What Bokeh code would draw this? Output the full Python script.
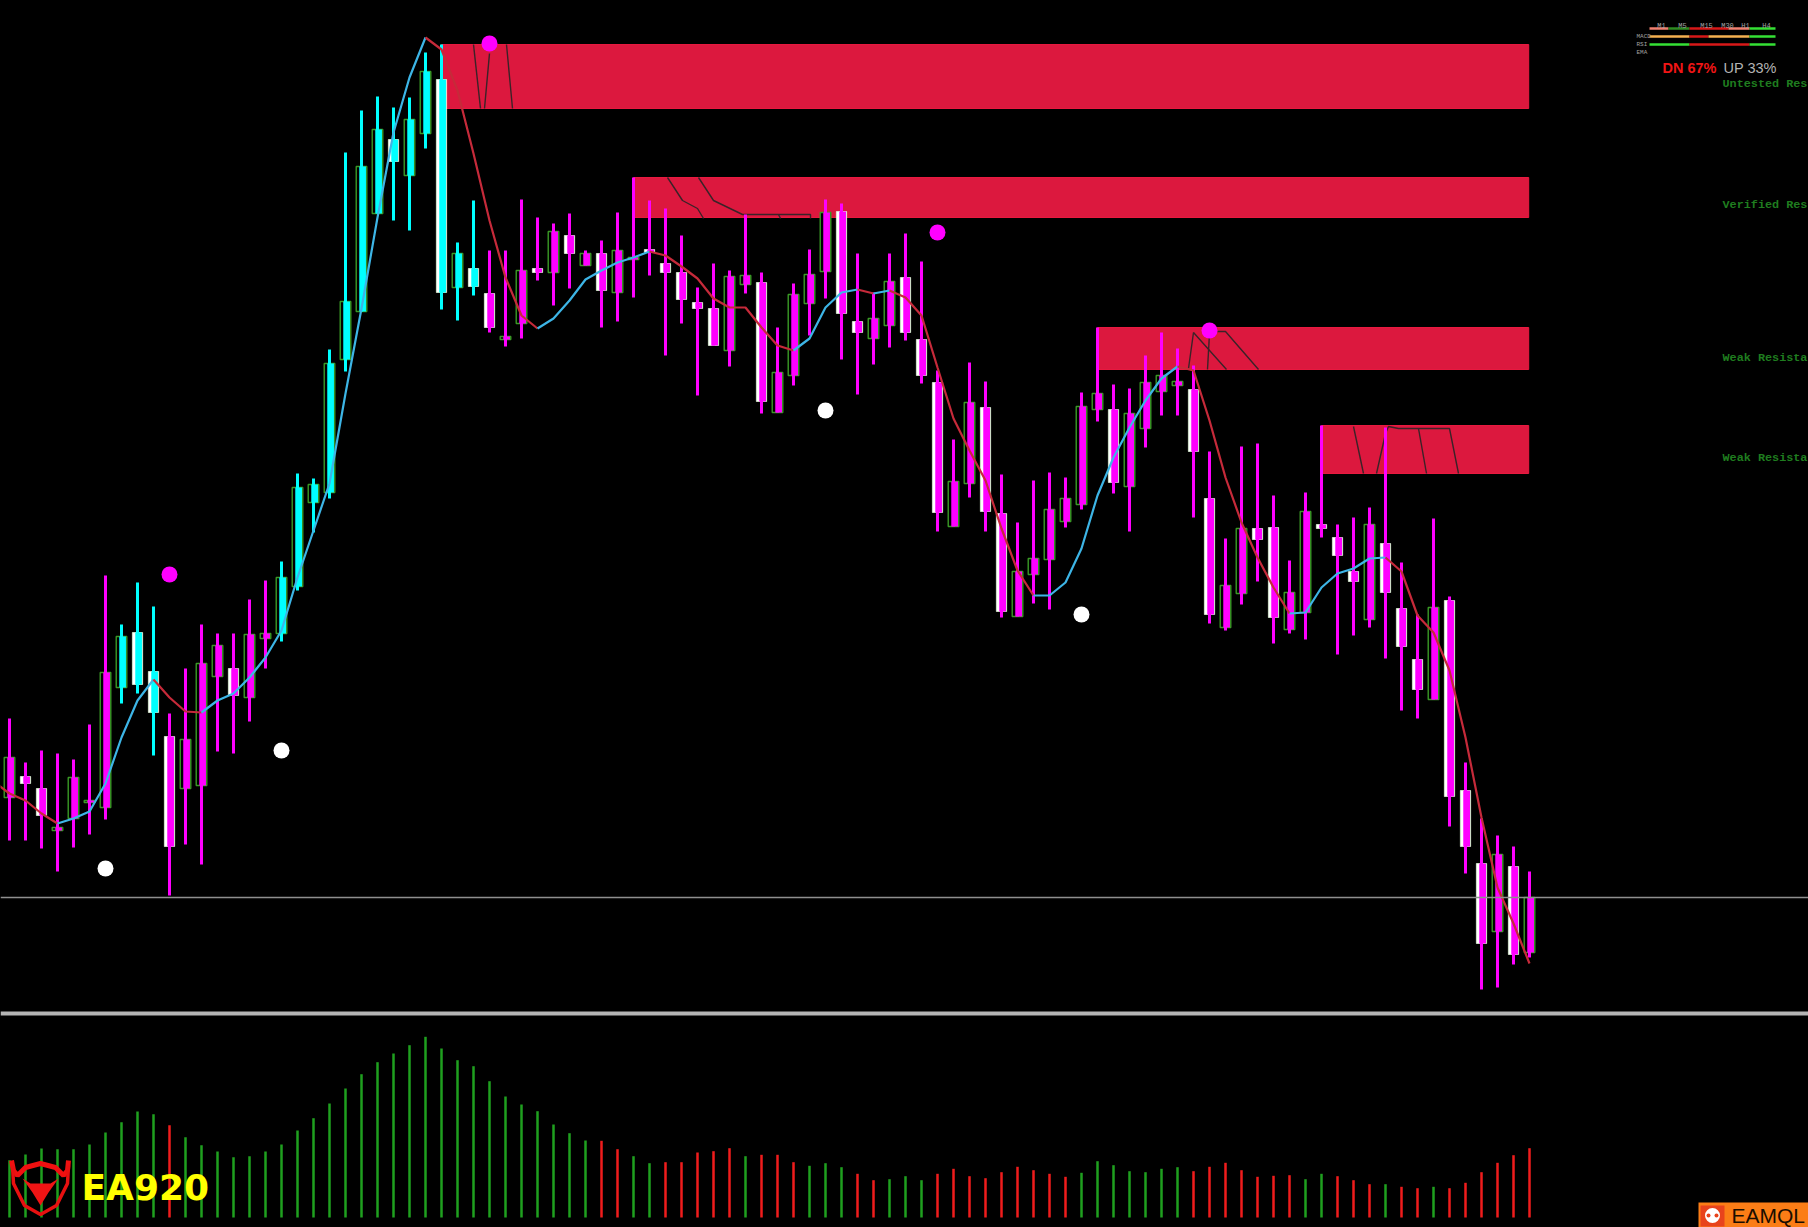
from bokeh.embed import file_html
from bokeh.resources import INLINE
from bokeh.plotting import figure
from bokeh.models import Range1d, Span
from bokeh.core.properties import value

# ---- candles (price axis = picture rows, bar index = 0..95) ----
high = [718,762,750,753,759,724,575,624,582,606,713,668,624,633,633,599,580,561,473,478,
        349,152,110,96,107,97,52,44,242,200,250,250,199,217,223,213,250,240,212,177,
        200,208,235,287,263,270,214,272,327,283,249,199,203,253,292,253,233,261,370,439,
        362,381,474,522,480,472,477,392,327,384,388,355,332,348,365,451,538,446,443,495,
        560,492,425,524,517,507,427,562,614,518,596,762,818,835,846,871]
low = [840,840,848,871,847,834,819,703,693,755,895,844,864,751,753,721,668,641,590,532,
       498,371,311,213,220,230,148,309,320,295,332,346,338,280,305,288,265,327,321,297,
       275,355,323,395,345,366,293,413,412,385,335,298,359,394,364,347,340,383,531,526,
       497,531,617,616,603,609,527,509,421,493,531,447,415,415,517,623,630,604,581,643,
       633,639,537,654,635,627,658,710,718,699,826,873,989,987,964,957]
body_top = [757,776,788,827,777,800,672,636,632,671,736,739,663,645,668,634,633,577,487,484,
            363,301,166,129,139,119,71,79,253,268,293,336,270,268,231,235,253,253,250,257,
            249,263,272,302,308,276,275,282,372,294,274,212,211,321,318,281,277,339,382,481,
            402,407,513,571,558,509,498,406,393,409,413,382,375,381,389,498,585,528,528,527,
            592,511,524,537,571,524,543,608,659,607,600,790,863,854,866,897]
body_bot = [797,783,815,830,818,802,807,687,684,712,846,788,785,676,695,697,638,633,586,502,
            492,359,311,213,161,175,133,292,287,286,327,339,323,272,272,253,265,290,292,259,
            252,272,299,308,345,350,284,401,412,375,303,271,313,332,338,325,332,375,512,526,
            483,511,611,616,574,559,521,504,409,482,486,428,391,385,451,614,627,593,539,617,
            629,612,528,555,581,619,592,646,689,699,796,846,943,931,954,952]
# bars with a white body; the others are hollow green boxes
white_bars = [1,2,8,9,10,14,24,27,29,30,33,35,37,40,41,42,43,44,47,52,53,56,57,58,61,62,69,74,75,
              78,79,82,83,84,86,87,88,90,91,92,94]
cyan_bars = [7, 8, 9] + list(range(17, 30))

# ---- fast line ----
signal = [793,800,813,823,818,811,783,737,700,679,697,711,712,700,693,677,657,630,577,530,
          483,393,308,217,132,77,37,49,90,153,220,277,315,328,318,300,279,270,262,257,
          251,255,266,278,298,307,307,327,345,350,338,307,292,289,293,290,297,315,367,418,
          450,480,528,570,595,595,582,548,495,457,427,400,378,366,370,420,477,522,557,587,
          613,612,587,573,568,558,557,571,615,632,670,737,817,887,923,963]
signal_runs = [(0,3,"r"),(3,9,"c"),(9,12,"r"),(12,26,"c"),(26,33,"r"),(33,40,"c"),(40,49,"r"),
               (49,53,"c"),(53,54,"r"),(54,55,"c"),(55,64,"r"),(64,73,"c"),(73,80,"r"),(80,86,"c"),(86,95,"r")]

# ---- lower histogram ----
hist = [57.3,63,69,68.3,68.3,73,85,95.3,106,103.3,92.3,80.3,72.3,66,60.3,61.3,66,73,87,99.3,
        114,129,143.3,155.3,164,172.3,180.7,169,157.3,151.3,136.3,121,113,106.3,93,84.3,77,76.7,68.3,61.3,
        54.3,55.3,55.3,65,66.3,69.3,61.3,62.7,62.7,55.3,51.7,54.3,50.3,43.7,37.3,38.3,41.3,37.3,43.7,48.7,
        41.3,39.3,45.3,50.7,47.3,43.7,40.7,44.7,56.3,52.3,46.3,45.3,48.7,50.3,46.3,50.7,54.7,47.3,40.7,41.7,
        42.3,38.3,43.7,41.3,37.3,33.3,33.3,30.7,29.3,30.7,29.3,34.7,45.3,54.7,62.3,69.3]
hist_red = [10,37,38,41,42,43,44,45,47,48,49,53,54,58,59,60,61,62,63,64,65,66,74,75,76,77,78,79,80,83,84,85,87,88,90,91,92,93,94,95]

# ---- resistance zones: first bar, top, bottom ----
zone_start = [27, 39, 68, 82]
zone_top = [44, 177, 327, 425]
zone_bot = [108, 217, 369, 473]
zone_end = 94.95
zone_traces = [
    [(473,44),(480,108)], [(489,53),(484,108)], [(506,44),(512,108)],
    [(667,177),(682,200),(697,208),(703,218)],
    [(698,177),(713,200),(742,214),(810,214),(810,218)], [(778,214),(780,218)],
    [(1188,368),(1193,332),(1226,369)], [(1207,369),(1209,333)], [(1217,331),(1225,331),(1258,369)],
    [(1353,426),(1363,473)],
    [(1376,473),(1385,433),(1388,426),(1398,428),(1449,428),(1458,473)], [(1418,428),(1426,473)],
]
zone_labels = ["Untested Res", "Verified Res", "Weak Resista", "Weak Resista"]
zone_label_y = [83, 204, 357, 457]

# ---- signal dots ----
top_dot_x = [10, 30, 58, 75]
top_dot_y = [574, 43, 232, 330]
low_dot_x = [6, 17, 51, 67]
low_dot_y = [868, 750, 410, 614]

# ---- dashboard ----
tf_labels = ["M1", "M5", "M15", "M30", "H1", "H4"]
tf_x = [1661, 1682, 1706, 1727, 1745, 1766]
row_labels = ["MACD", "RSI", "EMA"]
dash_rows = [
    (28, [(1649,1668,"#f08070"),(1668,1689,"#2e8b22"),(1689,1728,"#d81818"),(1728,1749,"#f08070"),(1749,1775,"#35e035")]),
    (36, [(1649,1689,"#f5b050"),(1689,1708,"#d81818"),(1708,1749,"#f5b050"),(1749,1775,"#35e035")]),
    (44, [(1649,1689,"#35e035"),(1689,1749,"#d81818"),(1749,1775,"#35e035")]),
]

MAGENTA, CYAN = "#ff00ff", "#00ffff"
BOX_GREEN = "#3a9a26"
n = len(high)
bars = list(range(n))

W, H = 1808, 1227
p = figure(width=W, height=H, output_backend="svg", toolbar_location=None,
           x_range=Range1d(-9 / 16, (W - 9) / 16), y_range=Range1d(H, 0),
           x_axis_location=None, y_axis_location=None,
           background_fill_color="black", border_fill_color="black",
           min_border=0, outline_line_color="black", outline_line_width=2)
p.grid.visible = False
p.extra_x_ranges = {"px": Range1d(0, W)}
p.extra_y_ranges = {"volume": Range1d(1217 - H, 1217)}  # 0 on the histogram's baseline

# levels
p.add_layout(Span(location=897, dimension="width", line_color="#8f8f8f", line_width=1.5))
p.add_layout(Span(location=1013, dimension="width", line_color="#b4b4b4", line_width=4))

# zones
p.quad(left=zone_start, right=[zone_end] * 4, top=zone_top, bottom=zone_bot,
       fill_color="#dc183e", line_color="#e8193f", line_width=1)
p.multi_line([[a for a, _ in t] for t in zone_traces], [[b for _, b in t] for t in zone_traces],
             x_range_name="px", line_color="#3a2328", line_width=1.4)

# histogram
hist_colors = ["#f01c1c" if i in hist_red else "#1fa01f" for i in bars]
p.segment(x0=bars, x1=bars, y0=[0] * n, y1=hist, y_range_name="volume", line_color=hist_colors, line_width=2.5)

# candles
wick_colors = [CYAN if i in cyan_bars else MAGENTA for i in bars]
g = [i for i in bars if i not in white_bars]
w = white_bars
p.vbar(x=g, width=0.66, top=[body_top[i] for i in g], bottom=[body_bot[i] for i in g],
       fill_color="black", line_color=BOX_GREEN, line_width=1.4)
p.vbar(x=w, width=0.64, top=[body_top[i] for i in w], bottom=[body_bot[i] for i in w],
       fill_color="white", line_color="#dff5d8", line_width=0.8)
p.segment(x0=bars, x1=bars, y0=high, y1=low, line_color=wick_colors, line_width=3)
p.vbar(x=[i + 0.07 for i in bars], width=0.42, top=body_top, bottom=body_bot,
       fill_color=wick_colors, line_color=None)

# fast line
line_colors = {"r": "#c62a3a", "c": "#3db5e6"}
xs, ys, cs = [[-1, 0]], [[781, signal[0]]], [line_colors["r"]]
for a, b, c in signal_runs:
    xs.append(bars[a:b + 1])
    ys.append(signal[a:b + 1])
    cs.append(line_colors[c])
p.multi_line(xs, ys, line_color=cs, line_width=2.2)

# dots
p.scatter(top_dot_x, top_dot_y, size=16, fill_color=MAGENTA, line_color=None)
p.scatter(low_dot_x, low_dot_y, size=16, fill_color="white", line_color=None)

# zone labels
p.text(x=[1722] * 4, y=zone_label_y, text=zone_labels, x_range_name="px",
       text_color="#1f7d1f", text_font=value("Liberation Mono"), text_font_size="11.8px",
       text_font_style="bold", text_baseline="middle", text_align="left")

# dashboard
for y, parts in dash_rows:
    p.segment(x0=[a for a, _, _ in parts], x1=[b for _, b, _ in parts], y0=[y] * len(parts), y1=[y] * len(parts),
              x_range_name="px", line_color=[c for _, _, c in parts], line_width=2.5)
p.text(x=tf_x, y=[25] * 6, text=tf_labels, x_range_name="px", text_color="#a0a0a0",
       text_font=value("Liberation Mono"), text_font_size="7px", text_align="center", text_baseline="middle")
p.text(x=[1636] * 3, y=[36, 44, 52], text=row_labels, x_range_name="px", text_color="#a0a0a0",
       text_font=value("Liberation Mono"), text_font_size="6px", text_align="left", text_baseline="middle")
p.text(x=[1662], y=[67], text=["DN 67%"], x_range_name="px", text_color="#f01515",
       text_font=value("Liberation Sans"), text_font_size="14.5px", text_font_style="bold",
       text_baseline="middle", text_align="left")
p.text(x=[1723], y=[67], text=["UP 33%"], x_range_name="px", text_color="#b4b4b4",
       text_font=value("Liberation Sans"), text_font_size="14.5px", text_baseline="middle", text_align="left")

# EA920 badge
p.multi_line([[11, 13, 17, 25, 40, 55, 63, 67, 68]], [[1160, 1170, 1175, 1167, 1163, 1167, 1175, 1170, 1160]],
             x_range_name="px", line_color="#f01010", line_width=5)
p.multi_line([[12, 13, 24, 40, 56, 67, 68]], [[1165, 1183, 1205, 1214, 1205, 1183, 1165]],
             x_range_name="px", line_color="#e81010", line_width=3.5)
p.patch([22, 30, 50, 58, 48, 40, 32], [1178, 1183, 1183, 1178, 1192, 1205, 1192],
        x_range_name="px", fill_color="#f01414", line_color=None)
p.text(x=[81], y=[1187], text=["EA920"], x_range_name="px", text_color="#ffff00",
       text_font=value("DejaVu Sans"), text_font_size="36px", text_font_style="bold",
       text_baseline="middle", text_align="left")

# EAMQL badge
p.quad(left=[1698], right=[1808], top=[1202], bottom=[1227], x_range_name="px",
       fill_color="#fb7d16", line_color=None)
p.quad(left=[1700], right=[1724], top=[1205], bottom=[1226], x_range_name="px",
       fill_color="#e8431c", line_color=None)
p.scatter([1712], [1215], x_range_name="px", size=15, fill_color="white", line_color=None)
p.scatter([1708, 1716], [1215, 1215], x_range_name="px", size=4, fill_color="#e8431c", line_color=None)
p.text(x=[1731], y=[1215], text=["EAMQL"], x_range_name="px", text_color="#1a0d00",
       text_font=value("Liberation Sans"), text_font_size="21px", text_baseline="middle", text_align="left")

open("out.html", "w").write(file_html(p, INLINE))
